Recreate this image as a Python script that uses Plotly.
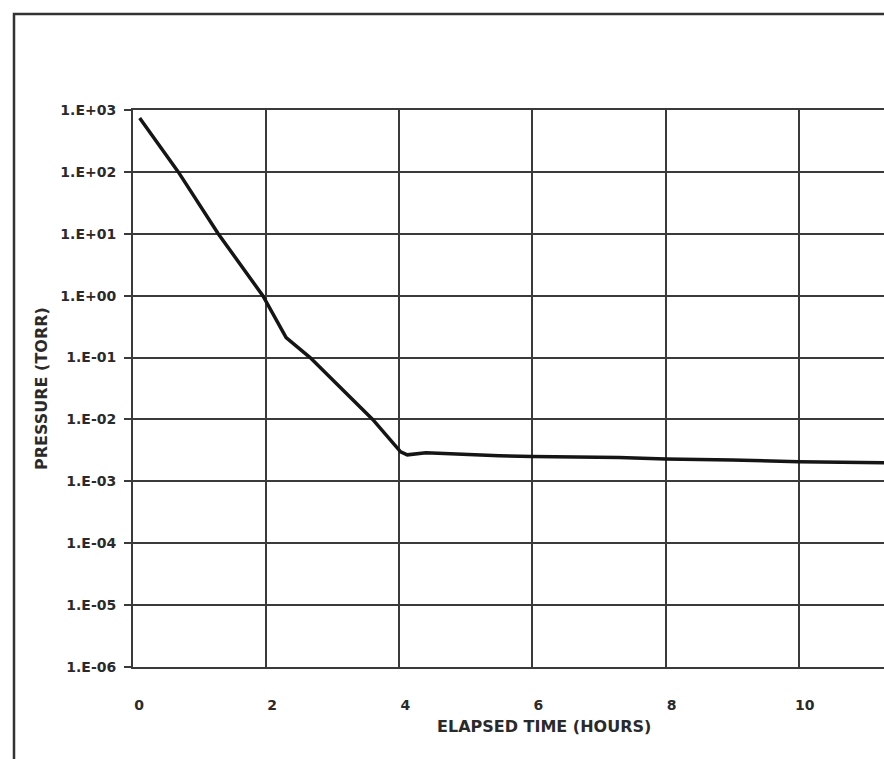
import plotly.graph_objects as go

# Data
time_hours = [0.1, 0.68, 1.28, 1.95, 2.3, 2.66, 3.6, 4.02, 4.12, 4.4, 5.5, 6.0, 7.3, 8.0, 9.0, 10.0, 11.3]
pressure_torr = [740, 100, 10, 1.0, 0.21, 0.1, 0.01, 0.003, 0.00268, 0.0029, 0.0026,
                 0.00251, 0.00242, 0.0023, 0.00222, 0.00208, 0.002]

x_ticks = [0, 2, 4, 6, 8, 10]
y_tick_vals = [1e3, 1e2, 1e1, 1e0, 1e-1, 1e-2, 1e-3, 1e-4, 1e-5, 1e-6]
y_tick_text = ["1.E+03", "1.E+02", "1.E+01", "1.E+00", "1.E-01",
               "1.E-02", "1.E-03", "1.E-04", "1.E-05", "1.E-06"]

W, H = 884, 759
ML, MR, MT, MB = 133, 0, 110, 92
PW, PH = W - ML - MR, H - MT - MB

def px_x(p):
    return (p - ML) / PW

def px_y(p):
    return (H - MB - p) / PH

GRID = "#3a3a3a"
TEXT = "#2a2a2a"
FONT = "DejaVu Sans"

fig = go.Figure()
fig.add_trace(go.Scatter(
    x=time_hours, y=pressure_torr, mode="lines",
    line=dict(color="#151515", width=3.5),
    hoverinfo="skip", showlegend=False,
))

fig.update_layout(
    width=W, height=H,
    margin=dict(l=ML, r=MR, t=MT, b=MB),
    paper_bgcolor="white", plot_bgcolor="white",
    font=dict(family=FONT, color=TEXT, size=14, weight="bold"),
    xaxis=dict(
        range=[0, 11.28], tickvals=x_ticks, ticks="",
        showgrid=True, gridcolor=GRID, gridwidth=2,
        zeroline=False, showline=True, linecolor=GRID, linewidth=2, mirror=True,
        tickfont=dict(family=FONT, size=14, color=TEXT, weight="bold"),
        ticklabelstandoff=24, ticklabelshift=6,
    ),
    yaxis=dict(
        type="log", range=[-6, 3], tickvals=y_tick_vals, ticktext=y_tick_text,
        ticks="outside", ticklen=7, tickwidth=2, tickcolor=GRID,
        showgrid=True, gridcolor=GRID, gridwidth=2,
        zeroline=False, showline=True, linecolor=GRID, linewidth=2,
        tickfont=dict(family=FONT, size=14, color=TEXT, weight="bold"),
        ticklabelstandoff=5,
    ),
    shapes=[dict(
        type="rect", xref="paper", yref="paper",
        x0=px_x(14), x1=1.2, y0=-0.5, y1=px_y(14),
        line=dict(color="#333333", width=2.5), layer="above",
    )],
    annotations=[
        dict(text="ELAPSED TIME (HOURS)", xref="paper", yref="paper",
             x=px_x(544), y=px_y(726), xanchor="center", yanchor="middle",
             showarrow=False, font=dict(family=FONT, size=16, color=TEXT, weight="bold")),
        dict(text="PRESSURE (TORR)", xref="paper", yref="paper",
             x=px_x(41), y=px_y(389), xanchor="center", yanchor="middle",
             textangle=-90, showarrow=False,
             font=dict(family=FONT, size=16, color=TEXT, weight="bold")),
    ],
)

fig.write_html(
    "out.html",
    config={"displayModeBar": False},
    post_script="document.body.style.margin='0';document.body.style.overflow='hidden';"
                "document.documentElement.style.overflow='hidden';",
)
